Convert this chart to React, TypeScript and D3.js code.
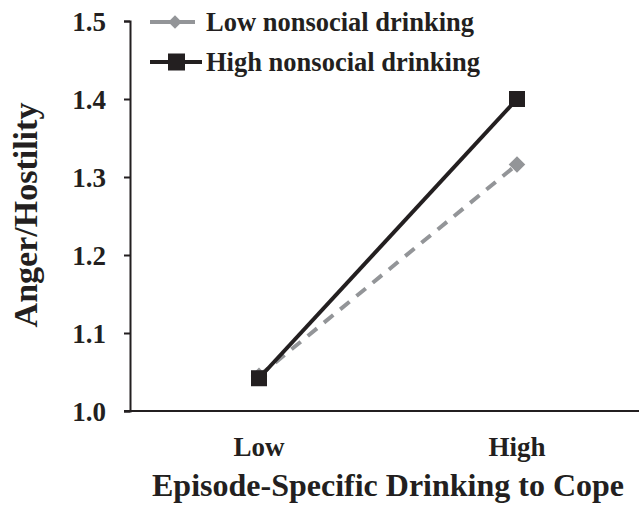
import React, { useRef, useEffect } from "react";
import * as d3 from "d3";

const categories = ["Low", "High"];
const lowNonsocial = [1.045, 1.316];
const highNonsocial = [1.042, 1.4];
const yTicks = [1.0, 1.1, 1.2, 1.3, 1.4, 1.5];

const W = 639;
const H = 508;

const App = () => {
  const svgRef = useRef<SVGSVGElement | null>(null);

  useEffect(() => {
    const svg = d3.select(svgRef.current);
    svg.selectAll("*").remove();

    const font = "'Liberation Serif', 'Times New Roman', serif";
    const ink = "#231f20";
    const grey = "#939598";
    const left = 130;
    const top = 21;
    const bottom = 411;

    const x = d3.scaleBand<string>().domain(categories).range([left, 646]);
    const cx = (c: string) => (x(c) ?? 0) + x.bandwidth() / 2;
    const y = d3.scaleLinear().domain([1.0, 1.5]).range([bottom, top]);

    // y axis
    const yAxis = d3.axisLeft(y).tickValues(yTicks).tickSize(6).tickSizeOuter(6).tickFormat(d3.format(".1f"));
    const yg = svg.append("g").attr("transform", `translate(${left},0)`).call(yAxis);
    yg.select(".domain").attr("stroke", ink).attr("stroke-width", 2);
    yg.selectAll(".tick line").attr("stroke", ink).attr("stroke-width", 2);
    yg.selectAll(".tick text")
      .attr("x", -24)
      .attr("dy", "0.36em")
      .attr("font-family", font)
      .attr("font-weight", "bold")
      .attr("font-size", 27)
      .attr("fill", ink);

    // x axis line
    svg.append("line")
      .attr("x1", left - 6).attr("x2", W)
      .attr("y1", bottom).attr("y2", bottom)
      .attr("stroke", ink).attr("stroke-width", 2);

    categories.forEach(c => {
      svg.append("text")
        .attr("x", cx(c)).attr("y", 456)
        .attr("text-anchor", "middle")
        .attr("font-family", font).attr("font-weight", "bold")
        .attr("font-size", 27).attr("fill", ink)
        .text(c);
    });

    svg.append("text")
      .attr("x", 388).attr("y", 496)
      .attr("text-anchor", "middle")
      .attr("font-family", font).attr("font-weight", "bold")
      .attr("font-size", 32).attr("fill", ink)
      .text("Episode-Specific Drinking to Cope");

    svg.append("text")
      .attr("transform", `translate(37,215) rotate(-90)`)
      .attr("text-anchor", "middle")
      .attr("font-family", font).attr("font-weight", "bold")
      .attr("font-size", 34).attr("fill", ink)
      .text("Anger/Hostility");

    const line = d3.line<number>().x((_, i) => cx(categories[i])).y(d => y(d));
    const diamond = d3.symbol().type(d3.symbolDiamond2).size(175);
    const legendDiamond = d3.symbol().type(d3.symbolDiamond2).size(115);

    // low nonsocial (gray dashed, diamonds)
    svg.append("path")
      .attr("d", line(lowNonsocial))
      .attr("fill", "none").attr("stroke", grey)
      .attr("stroke-width", 4).attr("stroke-dasharray", "12,9");
    lowNonsocial.forEach((v, i) => {
      svg.append("path")
        .attr("d", diamond())
        .attr("transform", `translate(${cx(categories[i])},${y(v)})`)
        .attr("fill", grey);
    });

    // high nonsocial (black solid, squares)
    svg.append("path")
      .attr("d", line(highNonsocial))
      .attr("fill", "none").attr("stroke", ink)
      .attr("stroke-width", 4);
    highNonsocial.forEach((v, i) => {
      svg.append("rect")
        .attr("x", cx(categories[i]) - 8).attr("y", y(v) - 8)
        .attr("width", 16).attr("height", 16)
        .attr("fill", ink);
    });

    // legend
    const legend = [
      { label: "Low nonsocial drinking", color: grey, mark: "diamond", yy: 22, x2: 195 },
      { label: "High nonsocial drinking", color: ink, mark: "square", yy: 62, x2: 202 },
    ];
    legend.forEach(l => {
      svg.append("line")
        .attr("x1", 150).attr("x2", l.x2)
        .attr("y1", l.yy).attr("y2", l.yy)
        .attr("stroke", l.color).attr("stroke-width", 4);
      if (l.mark === "diamond") {
        svg.append("path").attr("d", legendDiamond())
          .attr("transform", `translate(175,${l.yy})`)
          .attr("fill", l.color);
      } else {
        svg.append("rect")
          .attr("x", 168).attr("y", l.yy - 8.5)
          .attr("width", 17).attr("height", 17)
          .attr("fill", l.color);
      }
      svg.append("text")
        .attr("x", 206).attr("y", l.yy + 9)
        .attr("font-family", font).attr("font-weight", "bold")
        .attr("font-size", 26.5).attr("fill", ink)
        .text(l.label);
    });
  }, []);

  return (
    <div style={{ position: "absolute", left: 0, top: 0, width: W, height: H, background: "#fff" }}>
      <svg ref={svgRef} width={W} height={H} />
    </div>
  );
};

export default App;
